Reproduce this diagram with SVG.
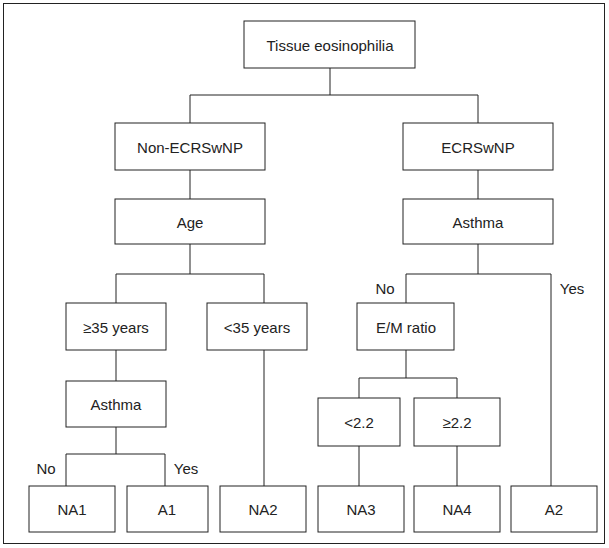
<svg xmlns="http://www.w3.org/2000/svg" width="609" height="548" viewBox="0 0 609 548">
<style>
.b{fill:#fff;stroke:#222;stroke-width:1}
.t{font-family:"Liberation Sans",Arial,sans-serif;font-size:15px;fill:#222;text-anchor:middle;dominant-baseline:central}
.c{fill:none;stroke:#222;stroke-width:1}
</style>
<rect x="3.5" y="3.5" width="601" height="540" fill="#fff" stroke="#222"/>
<g id="connectors" class="c">
<path d="M330 68V95M190 95H478M190 95V123M478 95V123M190 170V199M478 170V199"/>
<path d="M190 244V274M116 274H264M116 274V303M264 274V303M116 350V381M116 427V454M66 454H165M66 454V486M165 454V486M264 350V486"/>
<path d="M478 244V274M406 274H551M406 274V303M551 274V486M406 350V378M359 378H457M359 378V398M457 378V398M359 446V486M457 446V486"/>
</g>
<g id="n1"><rect class="b" x="244" y="21" width="171" height="47"/><text class="t" x="330" y="45">Tissue eosinophilia</text></g>
<g id="n2"><rect class="b" x="115" y="123" width="150" height="47"/><text class="t" x="190" y="147">Non-ECRSwNP</text></g>
<g id="n3"><rect class="b" x="403" y="123" width="150" height="47"/><text class="t" x="478" y="147">ECRSwNP</text></g>
<g id="n4"><rect class="b" x="115" y="199" width="150" height="45"/><text class="t" x="190" y="222">Age</text></g>
<g id="n5"><rect class="b" x="403" y="199" width="150" height="45"/><text class="t" x="478" y="222">Asthma</text></g>
<g id="n6"><rect class="b" x="66" y="303" width="100" height="47"/><text class="t" x="116" y="327">≥35 years</text></g>
<g id="n7"><rect class="b" x="207" y="303" width="100" height="47"/><text class="t" x="257" y="327">&lt;35 years</text></g>
<g id="n8"><rect class="b" x="357" y="303" width="97" height="47"/><text class="t" x="406" y="327">E/M ratio</text></g>
<g id="n9"><rect class="b" x="66" y="381" width="100" height="46"/><text class="t" x="116" y="404">Asthma</text></g>
<g id="n10"><rect class="b" x="318" y="398" width="82" height="48"/><text class="t" x="359" y="422">&lt;2.2</text></g>
<g id="n11"><rect class="b" x="414" y="398" width="86" height="48"/><text class="t" x="457" y="422">≥2.2</text></g>
<g id="n12"><rect class="b" x="29" y="486" width="86" height="46"/><text class="t" x="72" y="509">NA1</text></g>
<g id="n13"><rect class="b" x="127" y="486" width="81" height="46"/><text class="t" x="167" y="509">A1</text></g>
<g id="n14"><rect class="b" x="220" y="486" width="86" height="46"/><text class="t" x="263" y="509">NA2</text></g>
<g id="n15"><rect class="b" x="318" y="486" width="86" height="46"/><text class="t" x="361" y="509">NA3</text></g>
<g id="n16"><rect class="b" x="414" y="486" width="86" height="46"/><text class="t" x="457" y="509">NA4</text></g>
<g id="n17"><rect class="b" x="511" y="486" width="86" height="46"/><text class="t" x="554" y="509">A2</text></g>
<g id="labels">
<text class="t" x="46" y="468">No</text><text class="t" x="186" y="468">Yes</text>
<text class="t" x="385" y="288">No</text><text class="t" x="572" y="288">Yes</text>
</g>
</svg>
